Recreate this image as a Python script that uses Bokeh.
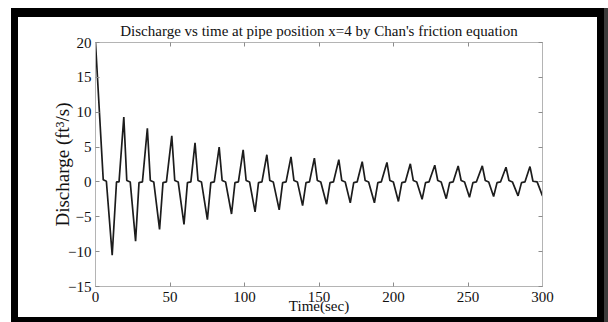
from bokeh.plotting import figure
from bokeh.models import LinearAxis, FixedTicker, Range1d, Div, Spacer
from bokeh.layouts import column, row
from bokeh.embed import file_html
from bokeh.resources import INLINE

# Discharge at x=4 (peaks, troughs and the flat shoulders near zero)
time_s = [
    0.0, 5.2, 7.3, 11.2, 14.1, 15.8, 19.0,
    21.0, 23.3, 26.9, 29.2, 31.5, 34.8,
    36.8, 39.1, 43.0, 45.3, 47.6, 51.2,
    53.2, 55.5, 59.4, 61.7, 64.0, 66.8,
    68.8, 71.1, 75.1, 77.4, 79.7, 83.0,
    85.0, 87.3, 91.3, 93.6, 95.9, 99.1,
    101.1, 103.4, 107.1, 109.4, 111.7, 115.0,
    117.0, 119.3, 123.3, 125.6, 127.9, 131.2,
    133.2, 135.5, 139.0, 141.3, 143.6, 146.9,
    148.9, 151.2, 155.1, 157.4, 159.7, 163.3,
    165.3, 167.6, 171.0, 173.3, 175.6, 179.0,
    181.0, 183.3, 187.2, 189.5, 191.8, 195.6,
    197.6, 199.9, 203.3, 205.6, 207.9, 211.3,
    213.3, 215.6, 219.2, 221.5, 223.8, 227.7,
    229.7, 232.0, 235.4, 237.7, 240.0, 243.4,
    245.4, 247.7, 251.0, 253.3, 255.6, 259.6,
    261.6, 263.9, 267.2, 269.5, 271.8, 275.5,
    277.5, 279.8, 283.6, 285.9, 288.2, 291.6,
    293.6, 296.4, 300.0,
]
discharge = [
    20.0, 0.3, 0.1, -10.5, 0.0, 0.0, 9.3,
    0.2, 0.0, -8.5, -0.1, 0.0, 7.7,
    0.2, 0.0, -6.8, -0.1, 0.0, 6.6,
    0.2, 0.0, -6.1, -0.1, 0.0, 5.6,
    0.2, 0.0, -5.4, -0.1, 0.0, 5.0,
    0.2, 0.0, -4.6, -0.1, 0.0, 4.6,
    0.2, 0.0, -4.3, -0.1, 0.0, 3.9,
    0.2, 0.0, -4.0, -0.1, 0.0, 3.6,
    0.2, 0.0, -3.4, -0.1, 0.0, 3.4,
    0.2, 0.0, -3.2, -0.1, 0.0, 3.2,
    0.2, 0.0, -3.0, -0.1, 0.0, 2.9,
    0.2, 0.0, -3.0, -0.1, 0.0, 2.8,
    0.2, 0.0, -2.8, -0.1, 0.0, 2.6,
    0.2, 0.0, -2.5, -0.1, 0.0, 2.4,
    0.2, 0.0, -2.4, -0.1, 0.0, 2.3,
    0.2, 0.0, -2.2, -0.1, 0.0, 2.3,
    0.2, 0.0, -2.1, -0.1, 0.0, 2.1,
    0.2, 0.0, -2.0, -0.1, 0.0, 2.2,
    0.1, 0.0, -2.0,
]

x_ticks = [0, 50, 100, 150, 200, 250, 300]
y_ticks = [-15, -10, -5, 0, 5, 10, 15, 20]
title_text = "Discharge vs time at pipe position x=4 by Chan's friction equation"
x_label = "Time(sec)"
y_label = "Discharge (ft\u00b3/s)"

FONT = "Liberation Serif"
AXIS_GREY = "#b4b4b4"
TEXT = "#111111"

W, H = 579, 300
p = figure(width=W, height=H, output_backend="svg", toolbar_location=None,
           x_range=Range1d(0, 300), y_range=Range1d(-15, 20),
           min_border_left=77, min_border_right=55, min_border_top=24,
           min_border_bottom=31, title=title_text)
p.background_fill_color = "white"
p.border_fill_color = "white"
p.outline_line_color = AXIS_GREY
p.outline_line_width = 1
p.xgrid.visible = False
p.ygrid.visible = False

p.title.text_font = FONT
p.title.text_font_size = "15px"
p.title.text_font_style = "normal"
p.title.text_color = TEXT
p.title.align = "center"
p.title.standoff = 7

p.line(time_s, discharge, line_color="#1c1c1c", line_width=1.7)

def style_axis(ax, ticks, show_labels):
    ax.ticker = FixedTicker(ticks=ticks)
    ax.axis_line_color = AXIS_GREY
    ax.major_tick_line_color = "#8c8c8c"
    ax.major_tick_in = 4
    ax.major_tick_out = 0
    ax.minor_tick_line_color = None
    ax.major_label_text_font = FONT
    ax.major_label_text_color = TEXT
    ax.axis_label_text_font = FONT
    ax.axis_label_text_font_style = "normal"
    ax.axis_label_text_color = TEXT
    if show_labels:
        ax.major_label_text_font_size = "15px"
    else:
        ax.major_label_text_font_size = "1px"
        ax.major_label_text_color = None
        ax.major_label_standoff = 0

xa = p.xaxis[0]
style_axis(xa, x_ticks, True)
xa.major_label_standoff = 5
xa.axis_label = x_label
xa.axis_label_text_font_size = "15px"
xa.axis_label_standoff = -7

ya = p.yaxis[0]
style_axis(ya, y_ticks, True)
ya.major_label_standoff = 4
ya.axis_label = y_label
ya.axis_label_text_font_size = "19px"
ya.axis_label_standoff = -8

top = LinearAxis()
style_axis(top, x_ticks, False)
p.add_layout(top, "above")
right = LinearAxis()
style_axis(right, y_ticks, False)
p.add_layout(right, "right")

# black picture frame around the chart, built from plain coloured blocks
def block(w, h, color):
    return Div(text="", width=w, height=h, margin=0,
               styles={"background-color": color})

def gap(w, h):
    return Spacer(width=w, height=h, margin=0)

BLACK, GREY = "#000000", "#3c3c3c"
layout = column(
    gap(608, 8),
    row(gap(11, 9), block(593, 9, BLACK), block(4, 9, GREY), spacing=0),
    row(gap(11, H), block(7, H, BLACK), p, block(7, H, BLACK), block(4, H, GREY), spacing=0),
    row(gap(11, 5), block(593, 5, BLACK), block(4, 5, GREY), spacing=0),
    spacing=0,
)

open("out.html", "w").write(file_html(layout, INLINE))
